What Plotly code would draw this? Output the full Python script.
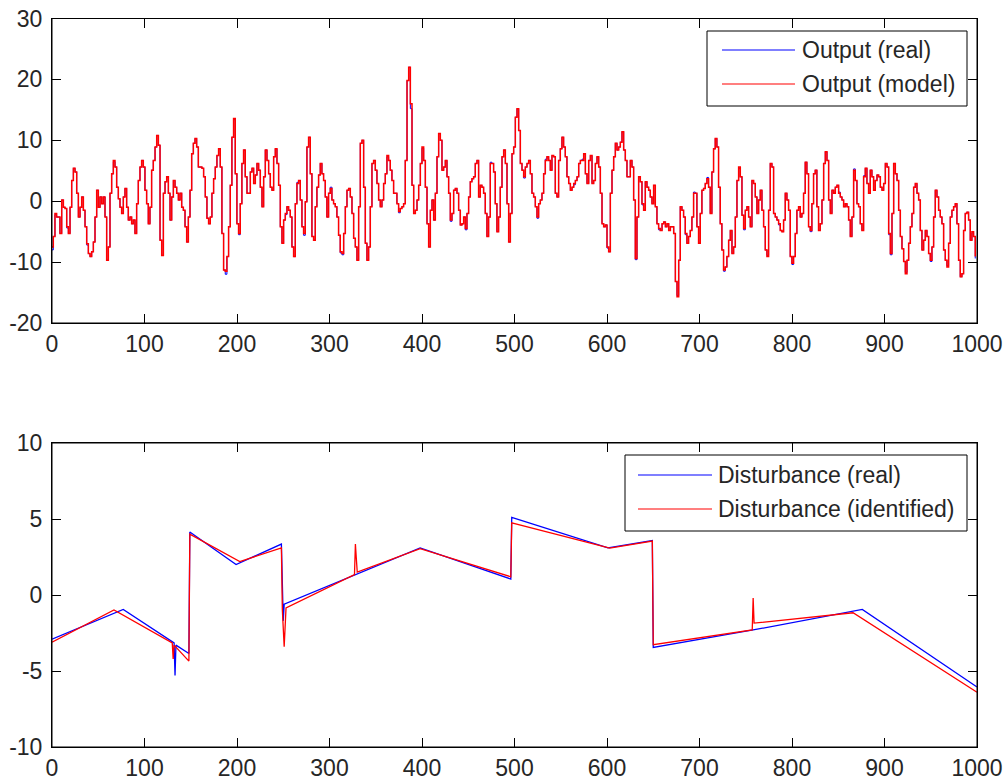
import plotly.graph_objects as go
from plotly.subplots import make_subplots

# ---------------- Top panel: output (~1.8-sample spacing) -------------
t1 = [0, 1.4, 3.2, 5.0, 6.8, 8.6, 10.5, 12.3, 14.1, 15.9,
      17.7, 19.5, 21.3, 23.1, 24.9, 26.7, 28.5, 30.3, 32.1, 33.9,
      35.7, 37.5, 39.3, 41.1, 42.9, 44.7, 46.5, 48.3, 50.1, 51.9,
      53.7, 55.5, 57.3, 59.1, 60.9, 62.7, 64.5, 66.3, 68.1, 69.9,
      71.7, 73.5, 75.3, 77.1, 78.9, 80.7, 82.5, 84.3, 86.1, 87.9,
      89.7, 91.5, 93.3, 95.1, 96.9, 98.7, 100.5, 102.3, 104.1, 105.9,
      107.7, 109.5, 111.4, 113.2, 115.0, 116.8, 118.6, 120.4, 122.2, 124.0,
      125.8, 127.6, 129.4, 131.2, 133.0, 134.8, 136.6, 138.4, 140.2, 142.0,
      143.8, 145.6, 147.4, 149.2, 151.0, 152.8, 154.6, 156.4, 158.2]
m1 = [-7.5, -5.8, -2, -2.6, -2.6, -5.3, 0.2, -1, -1.2, -4.2,
      -5.3, -1, 3.4, 5.4, 4.8, 1.3, -2.6, -1, 0.7, -1.5,
      -4.2, -7, -8.6, -9.1, -8.3, -6.7, -2.6, 1.8, -1, 0.7,
      -0.4, 0.7, -2.6, -9.7, -7.5, 1.3, 4.5, 6.7, 5.6, 2.3,
      0.4, -1, -2, 0.7, 2.1, -1, -3.1, -2.6, -3.7, -3.1,
      -5.3, -0.4, 3.4, 5.6, 6.7, 5.6, 1.8, -0.4, -3.7, -1,
      5.1, 6.7, 8.9, 10.8, 9.2, -6.4, -8.9, 1.3, 3.2, 4,
      1.3, -3.1, 0.7, 3.4, 2.3, 1.3, 0.2, 1.3, -1, -1.5,
      -4.2, -6.7, -2.6, 1.8, 7.8, 9.5, 10.3, 8.9, 5.6]
r1 = [-8, -5.8, -2.2, -2.6, -2.6, -5.3, 0.2, -1, -1.2, -4.4,
      -5.3, -1, 3.4, 5.4, 4.8, 1.3, -2.6, -1, 0.7, -1.5,
      -4.2, -7.2, -8.6, -9.1, -8.3, -6.7, -2.6, 1.8, -1, 0.7,
      -0.4, 0.7, -2.6, -9.7, -7.5, 1.3, 4.5, 6.5, 5.6, 2.3,
      0.4, -1, -2, 0.7, 2.1, -1, -3.1, -2.6, -3.7, -3.1,
      -5.3, -0.4, 3.4, 5.6, 6.7, 5.6, 1.8, -0.4, -3.7, -1,
      5.1, 6.7, 8.9, 10.8, 9.2, -6.4, -8.9, 1.3, 3.2, 4,
      1.3, -3.1, 0.7, 3.4, 2.3, 1.3, 0.2, 1.3, -1, -1.5,
      -4.2, -6.7, -2.6, 1.8, 7.8, 9.5, 10.3, 8.9, 5.6]

t2 = [162.1, 163.9, 165.7, 167.5, 169.3, 171.1, 172.9, 174.7, 176.5, 178.3,
      180.1, 181.9, 183.7, 185.5, 187.3, 189.1, 190.9, 192.7, 194.5, 196.3,
      198.1, 199.9, 201.7, 203.5, 205.3, 207.1, 208.9, 210.8, 212.6, 214.4,
      216.2, 218.0, 219.8, 221.6, 223.4, 225.2, 227.0, 228.8, 230.6, 232.4,
      234.2, 236.0, 237.8, 239.6, 241.4, 243.2, 245.0, 246.8, 248.6, 250.4,
      252.2, 254.0, 255.8, 257.6, 259.4, 261.2, 263.0, 264.8, 266.6, 268.4,
      270.2, 272.0, 273.8, 275.6, 277.4, 279.2, 281.0, 282.8, 284.6, 286.4,
      288.2, 290.0, 291.8, 293.6, 295.4, 297.2, 299.0, 300.8, 302.6, 304.4,
      306.2, 308.0, 309.8, 311.6, 313.5, 315.3, 317.1, 318.9, 320.7, 322.5,
      324.3, 326.1, 327.9, 329.7, 331.5, 333.3]
m2 = [5.4, 4, 0.7, -2.8, -3.7, -2.6, 1.3, 3.7, 5.6, 7.5,
      8.6, 5.6, -5.3, -11.3, -11.5, -9.1, -4.2, 2.6, 10.5, 13.6,
      4.5, -3.7, -5.3, -0.4, 6.2, 8.4, 4, 1.3, 1.3, 4.8,
      5.4, 2.9, 4.3, 6.2, 5.1, 2.3, -0.9, 4, 8.4, 6.7,
      4.5, 2.3, 1.8, 7.3, 8.6, 6.2, 2.6, -4.2, -6.9, -3.1,
      -2, -0.9, -1.5, -2.6, -7.5, -9.1, -0.4, 2.9, 3.4, 0.2,
      -4.2, -5.3, -0.1, 8.9, 10.5, 4.5, -5.8, -6.4, -0.9, 2.3,
      4.3, 6.2, 4.5, 3.4, 0.7, -2.6, 1.3, 2.1, 0.2, -0.4,
      -0.9, -2.6, -5.6, -8.3, -8.6, -5.3, -0.9, 1.8, 2.1, 0.7,
      -2, -6.1, -7.5, -9.7, -0.9, 9.5]
r2 = [5.4, 4, 0.7, -2.8, -3.7, -2.6, 1.3, 3.7, 5.6, 7.5,
      8.6, 5.6, -5.3, -11.3, -12, -9.1, -4.2, 2.6, 10.5, 13.4,
      4.5, -3.7, -5.5, -0.4, 6.2, 8.4, 4, 1.3, 1.3, 4.8,
      5.4, 2.9, 4.3, 6.2, 5.1, 2.3, -0.9, 4, 8.4, 6.7,
      4.5, 2.3, 1.8, 7.3, 8.6, 6.2, 2.6, -4.2, -6.9, -3.1,
      -2.2, -0.9, -1.5, -2.6, -7.5, -9.1, -0.4, 3.1, 3.4, 0.2,
      -4.2, -5.6, -0.1, 8.9, 10.5, 4.5, -5.8, -6.4, -0.9, 2.3,
      4.3, 6.2, 4.5, 3.4, 0.7, -2.6, 1.3, 2.3, 0.2, -0.4,
      -0.9, -2.6, -5.6, -8.5, -8.8, -5.3, -0.9, 1.8, 2.1, 0.7,
      -2, -6.1, -7.5, -9.7, -0.9, 9.5]

t3 = [335.1, 336.9, 338.7, 340.5, 342.3, 344.1, 345.9, 347.7, 349.5, 351.3,
      353.1, 354.9, 356.7, 358.5, 360.3, 362.1, 363.9, 365.7, 367.5, 369.3,
      371.1, 372.9, 374.7, 376.5, 378.3, 380.1, 381.9, 383.8, 385.6, 387.4,
      389.2, 391.0, 392.8, 394.6, 396.4, 398.2, 400.0, 401.8, 403.6, 405.4,
      407.2, 409.0, 410.8, 412.6, 414.4, 416.2, 418.0, 419.8, 421.6, 423.4,
      425.2, 427.0, 428.8, 430.6, 432.4, 434.2, 436.0, 437.8, 439.6, 441.4,
      443.2, 445.0, 446.8, 448.6, 450.4, 452.2, 454.0, 455.8, 457.6, 459.4,
      461.2, 463.0, 464.8, 466.6, 468.4, 470.2, 472.0, 473.8, 475.6, 477.4,
      479.2, 481.0, 482.8, 484.6, 486.5, 488.3, 490.1, 491.9, 493.7, 495.5,
      497.3, 499.1, 500.9, 502.7, 504.5]
m3 = [10, 2.3, -6.9, -9.7, -7.5, -0.9, 6.2, 6.7, 5.1, 2.9,
      0.2, -0.9, 0.2, 2.9, 4.5, 7.5, 6.7, 5.1, 3.4, 1.3,
      1.3, -0.4, -1.7, -1.2, -0.9, -0.4, 6.7, 19.8, 22, 16,
      2.6, -2, -1.5, 0.2, 2.6, 6.2, 8.9, 6.7, 2.3, -3.7,
      -7.5, -1.5, 0.2, -3.1, 1.3, 7.3, 11.1, 10, 5.1, 5.6,
      6.7, 4, 1.3, -3.1, -2, 1.8, 2.1, 1.3, -1.5, -3.9,
      -3.7, -2.6, -4.5, -2, 0.7, 3.2, 3.7, 4, 6.2, 6.7,
      0.7, 2.6, 2.3, 1.3, -2, -5.8, -2.6, 6.2, 6.2, 4.8,
      -0.4, -5, -2.6, 2.3, 7.3, 8.4, 6.2, -0.4, -6.7, -2,
      7.8, 8.9, 13.8, 15.2, 11.6]
r3 = [10, 2.3, -6.9, -9.7, -7.5, -0.9, 6.2, 6.7, 5.1, 2.9,
      0.2, -0.9, 0.2, 2.9, 4.5, 7.3, 6.7, 5.1, 3.4, 1.3,
      1.3, -0.4, -1.9, -1.2, -0.9, -0.4, 6.7, 19.8, 22, 15.2,
      2.6, -2, -1.5, 0.2, 2.6, 6.2, 8.7, 6.7, 2.3, -3.7,
      -7.5, -1.5, 0.2, -3.1, 1.3, 7.3, 11.1, 10, 5.1, 5.6,
      6.7, 4, 1.3, -3.3, -2, 1.8, 2.1, 1.3, -1.5, -3.9,
      -3.7, -2.6, -4.7, -2, 0.7, 3.2, 3.7, 4, 6.2, 6.7,
      0.7, 2.6, 2.3, 1.3, -2, -5.8, -2.6, 6.4, 6.2, 4.8,
      -0.4, -5, -2.6, 2.3, 7.3, 8.4, 6.2, -0.4, -6.7, -2,
      7.8, 8.9, 13.8, 15.2, 11.6]

t4 = [506.3, 508.1, 509.9, 511.7, 513.5, 515.3, 517.1, 518.9, 520.7, 522.5,
      524.3, 526.1, 527.9, 529.7, 531.5, 533.3, 535.1, 536.9, 538.7, 540.5,
      542.3, 544.1, 545.9, 547.7, 549.5, 551.3, 553.1, 554.9, 556.7, 558.6,
      560.4, 562.2, 564.0, 565.8, 567.6, 569.4, 571.2, 573.0, 574.8, 576.6,
      578.4, 580.2, 582.0, 583.8, 585.6, 587.4, 589.2, 591.0, 592.8, 594.6,
      596.4, 598.2, 600.0, 601.8, 603.6, 605.4, 607.2, 609.0, 610.8, 612.6,
      614.4, 616.2, 618.0, 619.8, 621.6, 623.4, 625.2, 627.0, 628.8, 630.6,
      632.4, 634.2, 636.0, 637.8, 639.6, 641.4, 643.2, 645.0, 646.8, 648.6,
      650.4, 652.2, 654.0, 655.8, 657.6, 659.5, 661.3, 663.1, 664.9, 666.7,
      668.5, 670.3, 672.1, 673.9, 675.7, 677.5]
m4 = [6.2, 5.1, 4, 5.6, 6.2, 6.7, 4.5, 1.3, 0.7, -0.9,
      -2.6, -0.4, 0.2, 1.3, 4.5, 6.7, 7.3, 6.7, 5.1, 7.5,
      7.3, 1.3, 0.7, 6.7, 8.6, 10.5, 8.9, 7.3, 4, 2.9,
      1.8, 2.3, 2.9, 3.4, 4, 6.2, 6.7, 6.7, 7.8, 4.5,
      2.9, 6.7, 7.5, 2.9, 3.4, 6.2, 7.3, 5.6, 1.3, -3.7,
      -4.2, -3.9, -7.5, -8.3, 1.3, 5.1, 7.3, 9.5, 8.4, 8.9,
      9.7, 11.4, 8.4, 6.7, 4, 4, 6.7, 5.6, 0.2, -9.4,
      -2.6, 4, 3.2, -0.4, -1.5, 3.2, 2.3, 1.8, 0.7, -0.4,
      2.6, -0.9, -3.7, -4.5, -4.8, -3.7, -3.4, -4.2, -3.7, -4.8,
      -4.2, -4.2, -5.3, -13.2, -15.7, -9.7]
r4 = [6.2, 5.1, 3.8, 5.6, 6.2, 6.7, 4.5, 1.3, 0.7, -0.9,
      -2.8, -0.4, 0.2, 1.3, 4.5, 6.9, 7.3, 6.7, 5.1, 7.5,
      7.3, 1.3, 0.7, 6.7, 8.6, 10.5, 8.9, 7.3, 4, 2.9,
      1.8, 2.3, 2.7, 3.4, 4, 6.2, 6.7, 6.9, 7.8, 4.5,
      2.9, 6.7, 7.5, 2.9, 3.4, 6.2, 7.3, 5.6, 1.3, -3.7,
      -4.2, -3.9, -7.7, -8.3, 1.3, 5.1, 7.3, 9.5, 8.4, 8.9,
      9.7, 11.4, 8.4, 6.7, 4, 4, 6.7, 5.6, 0.2, -9.6,
      -2.6, 4, 3.2, -0.6, -1.5, 3.2, 2.3, 1.8, 0.7, -0.4,
      2.6, -0.9, -3.7, -4.7, -4.8, -3.7, -3.4, -4.2, -3.7, -4.8,
      -4.2, -4.2, -5.3, -13.2, -15.5, -9.7]

t5 = [679.2, 681.0, 682.8, 684.6, 686.4, 688.2, 690.0, 691.8, 693.6, 695.4,
      697.2, 699.0, 700.8, 702.6, 704.4, 706.2, 708.0, 709.8, 711.6, 713.4,
      715.2, 717.0, 718.8, 720.6, 722.4, 724.2, 726.0, 727.8, 729.6, 731.5,
      733.3, 735.1, 736.9, 738.7, 740.5, 742.3, 744.1, 745.9, 747.7, 749.5,
      751.3, 753.1, 754.9, 756.7, 758.5, 760.3, 762.1, 763.9, 765.7, 767.5,
      769.3, 771.1, 772.9, 774.7, 776.5, 778.3, 780.1, 781.9, 783.7, 785.5,
      787.3, 789.1, 790.9, 792.7, 794.5, 796.3, 798.1, 799.9, 801.7, 803.5,
      805.3, 807.1, 808.9, 810.7, 812.5, 814.3, 816.1, 817.9, 819.7, 821.5,
      823.3, 825.1, 826.9, 828.7, 830.5, 832.4, 834.2, 836.0, 837.8, 839.6]
m5 = [-0.9, -1.5, -2.6, -5.3, -6.9, -5.8, -4.8, -2.6, 1.3, 1.3,
      -4.2, -6.9, -2, 1.8, 2.1, 2.9, 3.7, 2.3, -2, 4.8,
      8.6, 10.3, 8.9, 2.3, -3.7, -8, -11.3, -10.8, -9.1, -6.4,
      -4.8, -8.6, -7.5, -2.6, 3.4, 5.6, 4, -2.3, -4.5, -1.5,
      -0.9, -2.6, -4.2, 3.4, 2.9, 0.7, -2, 0.2, 1.8, -1.5,
      -4.2, -8, -9.1, -1.5, 6.2, 5.6, -2, -2.6, -3.1, -3.7,
      -4.8, -5, -3.1, 1.3, 0.2, -1.5, -9.1, -10.2, -9.1, -5.3,
      -1.5, -0.9, -2.6, -2, 1.3, 6.4, 4.5, -4.2, -4.8, -0.4,
      4.5, 5.1, -0.9, -4.8, -3.7, 0.2, 6.2, 8.1, 6.7, 0.2]
r5 = [-0.9, -1.5, -2.6, -5.5, -6.9, -5.8, -4.8, -2.6, 1.5, 1.3,
      -4.2, -6.9, -2, 1.8, 2.1, 2.9, 3.9, 2.3, -2, 4.8,
      8.6, 10.3, 8.9, 2.3, -3.7, -8, -11.5, -10.8, -9.1, -6.4,
      -4.8, -8.6, -7.5, -2.6, 3.4, 5.4, 4, -2.3, -4.7, -1.5,
      -0.9, -2.6, -4.2, 3.4, 2.9, 0.7, -2, 0.2, 1.8, -1.5,
      -4.2, -8, -8.9, -1.5, 6.2, 5.6, -2, -2.6, -3.1, -3.9,
      -4.8, -5, -3.1, 1.3, 0.2, -1.5, -9.1, -10.4, -9.1, -5.3,
      -1.5, -0.9, -2.6, -2, 1.3, 6.4, 4.5, -4.2, -5, -0.4,
      4.5, 5.1, -0.9, -4.8, -3.7, 0.2, 6.2, 8.1, 6.7, 0.2]

t6 = [841.4, 843.2, 845.0, 846.8, 848.6, 850.4, 852.2, 854.0, 855.8, 857.6,
      859.4, 861.2, 863.0, 864.8, 866.6, 868.4, 870.2, 872.0, 873.8, 875.6,
      877.4, 879.2, 881.0, 882.8, 884.6, 886.4, 888.2, 890.0, 891.9, 893.7,
      895.5, 897.3, 899.1, 900.9, 902.7, 904.5, 906.3, 908.1, 909.9, 911.7,
      913.5, 915.3, 917.1, 918.9, 920.7, 922.5, 924.3, 926.1, 927.9, 929.7,
      931.5, 933.3, 935.1, 936.9, 938.7, 940.5, 942.3, 944.1, 945.9, 947.7,
      949.5, 951.3, 953.1, 954.9, 956.7, 958.5, 960.3, 962.1, 963.9, 965.7,
      967.5, 969.3, 971.1, 972.9, 974.7, 976.5, 978.3, 980.1, 981.9, 983.7,
      985.5, 987.3, 989.1, 990.9, 992.7, 994.5, 996.3, 998.1]
m6 = [-2, 1.8, 1.3, 2.3, 2.6, 1.3, 0.7, 0.2, -0.9, -0.4,
      -0.9, -3.1, -5.8, -2.6, 5.1, 3.4, -0.4, -0.9, -3.7, -4.8,
      4, 5.4, 2.9, 1.3, 5.1, 4, 1.8, 3.4, 4.3, 4,
      2.3, 1.8, 2.9, 6.2, 5.6, -5.3, -8.6, -2, 6.2, 4.5,
      3.4, -1.5, -5.8, -7.8, -9.9, -11.9, -9.7, -6.9, -4.2, -2,
      2.3, 2.9, 1.3, 0.2, -4.8, -8, -6.4, -4.8, -5.8, -8.6,
      -9.7, -7.5, -2.6, 1.8, 0.7, -1.5, -2.6, -3.7, -8, -9.7,
      -10.8, -6.9, -2.6, -1.5, -0.9, -0.4, -3.7, -9.7, -12.4, -11.9,
      -4.8, -2, -1.8, -3.1, -6.4, -5, -5.8, -9.1]
r6 = [-2, 1.8, 1.3, 2.3, 2.6, 1.5, 0.7, 0.2, -0.9, -0.4,
      -0.9, -3.1, -5.8, -2.6, 5.3, 3.4, -0.4, -0.9, -3.7, -4.8,
      4.2, 5.4, 2.9, 1.3, 5.1, 4, 1.8, 3.4, 4.3, 4,
      2.3, 1.8, 2.9, 6.2, 5.6, -5.5, -8.8, -2, 6.2, 4.5,
      3.4, -1.5, -5.8, -7.8, -9.9, -11.7, -9.7, -6.9, -4.2, -2,
      2.3, 2.9, 1.3, 0.2, -4.8, -8, -6.4, -4.8, -5.8, -8.6,
      -9.9, -7.5, -2.6, 1.8, 0.7, -1.5, -2.6, -3.7, -8, -9.7,
      -10.6, -6.9, -2.6, -1.5, -0.9, -0.4, -3.7, -9.7, -12.4, -11.9,
      -4.8, -2, -1.8, -3.1, -6.4, -5.2, -5.8, -9.4]

# ---------------- Bottom panel: disturbance (breakpoints) --------------
dist_real_t = [0, 77, 132, 133, 134, 148, 149, 199, 248, 249, 250, 251, 398,
               496, 497, 601, 649, 650, 758, 876, 1000]
dist_real_y = [-2.9, -0.95, -3.15, -5.3, -3.3, -3.85, 4.15, 2.0, 3.35, -0.6, -1.7, -0.6, 3.1,
               1.05, 5.1, 3.1, 3.58, -3.45, -2.3, -0.95, -6.05]
dist_ident_t = [0, 67, 130, 131, 132, 148, 149, 203, 248, 249, 251, 253, 327,
                328, 329, 330, 398, 496, 497, 603, 649, 650, 757, 758, 759, 866, 1000]
dist_ident_y = [-3.1, -0.98, -3.15, -4.2, -3.3, -4.35, 4.0, 2.2, 3.1, -0.95, -3.4, -0.85, 1.35,
                3.35, 2.4, 1.5, 3.05, 1.2, 4.75, 3.08, 3.55, -3.27, -2.3, -0.2, -1.85, -1.17, -6.4]

x_ticks = [0, 100, 200, 300, 400, 500, 600, 700, 800, 900, 1000]
y_ticks_top = [-20, -10, 0, 10, 20, 30]
y_ticks_bot = [-10, -5, 0, 5, 10]
# tick labels written with a plain hyphen-minus, as in the reference
y_labels_top = ["-20", "-10", "0", "10", "20", "30"]
y_labels_bot = ["-10", "-5", "0", "5", "10"]

names_top = ["Output (real)", "Output (model)"]
names_bot = ["Disturbance (real)", "Disturbance (identified)"]

BLUE = "#0000FF"
RED = "#FF0000"
AX = "#000000"
TXT = "#262626"
FONT = "Liberation Sans, Arial, sans-serif"
FS = 23

out_t = t1 + t2 + t3 + t4 + t5 + t6
out_real = r1 + r2 + r3 + r4 + r5 + r6
out_model = m1 + m2 + m3 + m4 + m5 + m6
assert len(out_t) == len(out_real) == len(out_model)

fig = make_subplots(rows=2, cols=1)
fig.add_trace(go.Scatter(x=out_t, y=out_real, mode="lines", line=dict(color=BLUE, width=1, shape="hv"),
                         name=names_top[0], showlegend=False), row=1, col=1)
fig.add_trace(go.Scatter(x=out_t, y=out_model, mode="lines", line=dict(color=RED, width=1.5, shape="hv"),
                         name=names_top[1], showlegend=False), row=1, col=1)
fig.add_trace(go.Scatter(x=dist_real_t, y=dist_real_y, mode="lines", line=dict(color=BLUE, width=1.3),
                         name=names_bot[0], showlegend=False), row=2, col=1)
fig.add_trace(go.Scatter(x=dist_ident_t, y=dist_ident_y, mode="lines", line=dict(color=RED, width=1.3),
                         name=names_bot[1], showlegend=False), row=2, col=1)

W, H = 1007, 780
ML, MR, MT, MB = 52, 30, 18, 33
PW, PH = W - ML - MR, H - MT - MB


def px(x):
    return (x - ML) / PW


def py(y):
    return 1 - (y - MT) / PH


axis_common = dict(showline=True, linecolor=AX, linewidth=1, mirror="ticks", ticks="inside",
                   ticklen=9, tickcolor=AX, tickwidth=1, showgrid=False, zeroline=False,
                   automargin=False, ticklabeloverflow="allow",
                   tickfont=dict(family=FONT, size=FS, color=TXT))

fig.update_xaxes(range=[0, 1000], tickvals=x_ticks, ticktext=[str(v) for v in x_ticks], **axis_common)
fig.update_yaxes(ticklabelstandoff=4, **axis_common)
fig.update_yaxes(range=[-20, 30], tickvals=y_ticks_top, ticktext=y_labels_top, row=1, col=1)
fig.update_yaxes(range=[-10, 10], tickvals=y_ticks_bot, ticktext=y_labels_bot, row=2, col=1)

top_dom = [py(323), py(18.5)]
bot_dom = [0, py(443)]
fig.update_layout(yaxis=dict(domain=top_dom), yaxis2=dict(domain=bot_dom))

shapes = []
annotations = []

# axes boxes (MATLAB "box on")
for xr, yr in (("x domain", "y domain"), ("x2 domain", "y2 domain")):
    shapes.append(dict(type="rect", xref=xr, yref=yr, x0=0, x1=1, y0=0, y1=1,
                       line=dict(color=AX, width=1), fillcolor="rgba(0,0,0,0)", layer="above"))


# legends drawn as framed boxes with line samples
def legend(box, rows, names, colors):
    x0, y0, x1, y1 = box
    shapes.append(dict(type="rect", xref="paper", yref="paper", x0=px(x0), x1=px(x1), y0=py(y0), y1=py(y1),
                       line=dict(color=AX, width=1), fillcolor="white", layer="above"))
    for (lx0, lx1, ly, tx), name, col in zip(rows, names, colors):
        shapes.append(dict(type="line", xref="paper", yref="paper", x0=px(lx0), x1=px(lx1), y0=py(ly), y1=py(ly),
                           line=dict(color=col, width=1.2), layer="above"))
        annotations.append(dict(xref="paper", yref="paper", x=px(tx), y=py(ly), text=name, showarrow=False,
                                xanchor="left", yanchor="middle", font=dict(family=FONT, size=FS, color=TXT)))


legend((707, 31, 967, 106), [(722, 795, 50, 800), (722, 795, 84, 800)], names_top, [BLUE, RED])
legend((625, 455, 967, 531), [(638, 712, 475, 716), (638, 712, 509, 716)], names_bot, [BLUE, RED])

fig.update_layout(width=W, height=H, margin=dict(l=ML, r=MR, t=MT, b=MB, autoexpand=False),
                  paper_bgcolor="white", plot_bgcolor="white",
                  shapes=shapes, annotations=annotations, showlegend=False,
                  font=dict(family=FONT, size=FS, color=TXT))

# remove the browser's default 8px body margin so the figure sits at the page origin
fig.write_html("out.html", config={"displayModeBar": False},
               post_script="document.body.style.margin='0';")
